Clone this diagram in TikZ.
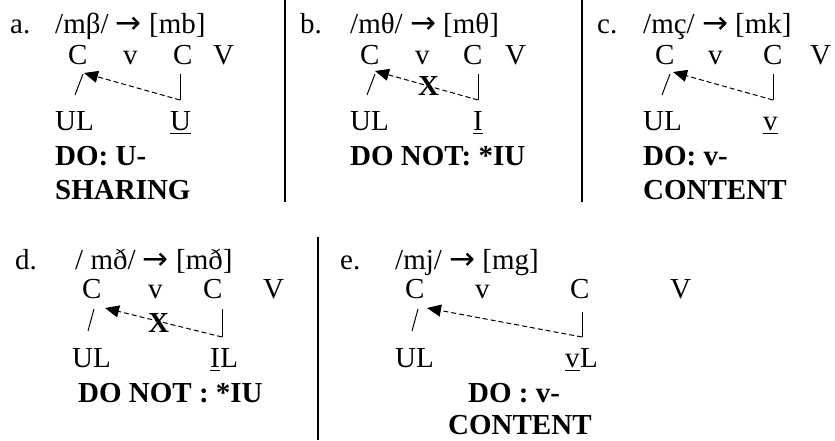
\documentclass[tikz,border=0pt]{standalone}
\usepackage{fontspec}
\setmainfont{Liberation Serif}
\newfontfamily\arrowfont{DejaVu Sans}
\newcommand{\myarrow}{{\arrowfont\fontsize{31}{33}\selectfont →}}
\usetikzlibrary{arrows.meta,calc}
\tikzset{
  txt/.style={anchor=base west, inner sep=0pt, font=\fontsize{29}{33}\selectfont},
  txtb/.style={anchor=base west, inner sep=0pt, font=\fontsize{29}{33}\selectfont\bfseries},
  assoc/.style={line width=1pt},
  spread/.style={line width=1pt, dash pattern=on 5pt off 3pt, -{Triangle[length=14pt,width=12pt]}},
  sepline/.style={line width=2pt},
  ulbar/.style={line width=1.6pt}
}
\begin{document}
\begin{tikzpicture}[x=1pt,y=-1pt]
\useasboundingbox (0,0) rectangle (835,440);
% separators
\coordinate (s1a) at (285,0); \coordinate (s1b) at (285,202);
\coordinate (s2a) at (582,0); \coordinate (s2b) at (582,202);
\coordinate (s3a) at (318,237); \coordinate (s3b) at (318,440);
\draw[sepline] (s1a) -- (s1b);
\draw[sepline] (s2a) -- (s2b);
\draw[sepline] (s3a) -- (s3b);

% ---------- panel a ----------
\node[txt] (aL) at (10,33) {a.};
\node[txt] (aF) at (55,33) {/mβ/ \myarrow{} [mb]};
\node[txt] (aC1) at (68,64) {C};
\node[txt] (av) at (123,64) {v};
\node[txt] (aC2) at (173,64) {C};
\node[txt] (aV) at (213,64) {V};
\node[txt] (aUL) at (55,130) {UL};
\node[txt] (aU) at (170,130) {U};
\node[txtb] (aD1) at (55,165) {DO: U-};
\node[txtb] (aD2) at (55,199) {SHARING};
\coordinate (as1) at (75,95); \coordinate (as2) at (83,74);
\coordinate (ab1) at (180,74); \coordinate (ab2) at (180,100);
\coordinate (at) at (84,73);
\draw[assoc] (as1) -- (as2);
\draw[assoc] (ab1) -- (ab2);
\draw[spread] (ab2) -- (at);
\draw[ulbar] ($(aU.base west)+(0,3.5)$) -- ($(aU.base east)+(0,3.5)$);

% ---------- panel b ----------
\node[txt] (bL) at (300,33) {b.};
\node[txt] (bF) at (350,33) {/mθ/ \myarrow{} [mθ]};
\node[txt] (bC1) at (360,64) {C};
\node[txt] (bv) at (415,64) {v};
\node[txt] (bC2) at (463,64) {C};
\node[txt] (bV) at (505,64) {V};
\node[txtb] (bX) at (418,95) {X};
\node[txt] (bUL) at (350,130) {UL};
\node[txt] (bI) at (473,130) {I};
\node[txtb] (bD1) at (350,165) {DO NOT: *IU};
\coordinate (bs1) at (367,95); \coordinate (bs2) at (375,74);
\coordinate (bb1) at (478,74); \coordinate (bb2) at (478,100);
\coordinate (bt) at (375,71);
\draw[assoc] (bs1) -- (bs2);
\draw[assoc] (bb1) -- (bb2);
\draw[spread] (bb2) -- (bt);
\draw[ulbar] ($(bI.base west)+(0,3.5)$) -- ($(bI.base east)+(0,3.5)$);

% ---------- panel c ----------
\node[txt] (cL) at (597,33) {c.};
\node[txt] (cF) at (643,33) {/mç/ \myarrow{} [mk]};
\node[txt] (cC1) at (655,64) {C};
\node[txt] (cv) at (708,64) {v};
\node[txt] (cC2) at (763,64) {C};
\node[txt] (cV) at (810,64) {V};
\node[txt] (cUL) at (643,130) {UL};
\node[txt] (cvu) at (763,130) {v};
\node[txtb] (cD1) at (643,165) {DO: v-};
\node[txtb] (cD2) at (643,199) {CONTENT};
\coordinate (cs1) at (662,95); \coordinate (cs2) at (670,74);
\coordinate (cb1) at (773,74); \coordinate (cb2) at (773,100);
\coordinate (ct) at (673,72);
\draw[assoc] (cs1) -- (cs2);
\draw[assoc] (cb1) -- (cb2);
\draw[spread] (cb2) -- (ct);
\draw[ulbar] ($(cvu.base west)+(0,3.5)$) -- ($(cvu.base east)+(0,3.5)$);

% ---------- panel d ----------
\node[txt] (dL) at (15,269) {d.};
\node[txt] (dF) at (75,269) {/ mð/ \myarrow{} [mð]};
\node[txt] (dC1) at (82,298) {C};
\node[txt] (dv) at (148,298) {v};
\node[txt] (dC2) at (203,298) {C};
\node[txt] (dV) at (263,298) {V};
\node[txtb] (dX) at (148,332) {X};
\node[txt] (dUL) at (72,367) {UL};
\node[txt] (dI) at (210,367) {I};
\node[txt] (dLL) at (dI.base east) {L};
\node[txtb] (dD1) at (78,402) {DO NOT : *IU};
\coordinate (ds1) at (88,331); \coordinate (ds2) at (94,309);
\coordinate (db1) at (222,309); \coordinate (db2) at (222,337);
\coordinate (dt) at (105,308);
\draw[assoc] (ds1) -- (ds2);
\draw[assoc] (db1) -- (db2);
\draw[spread] (db2) -- (dt);
\draw[ulbar] ($(dI.base west)+(0,3.5)$) -- ($(dI.base east)+(0,3.5)$);

% ---------- panel e ----------
\node[txt] (eL) at (340,269) {e.};
\node[txt] (eF) at (395,269) {/mj/ \myarrow{} [mg]};
\node[txt] (eC1) at (405,298) {C};
\node[txt] (ev) at (475,298) {v};
\node[txt] (eC2) at (570,298) {C};
\node[txt] (eV) at (670,298) {V};
\node[txt] (eUL) at (395,367) {UL};
\node[txt] (evu) at (565,367) {v};
\node[txt] (eLL) at (evu.base east) {L};
\node[txtb] (eD1) at (468,402) {DO : v-};
\node[txtb] (eD2) at (448,434) {CONTENT};
\coordinate (es1) at (412,331); \coordinate (es2) at (418,309);
\coordinate (eb1) at (582,312); \coordinate (eb2) at (582,337);
\coordinate (et) at (427,308);
\draw[assoc] (es1) -- (es2);
\draw[assoc] (eb1) -- (eb2);
\draw[spread] (eb2) -- (et);
\draw[ulbar] ($(evu.base west)+(0,3.5)$) -- ($(evu.base east)+(0,3.5)$);
\end{tikzpicture}
\end{document}
